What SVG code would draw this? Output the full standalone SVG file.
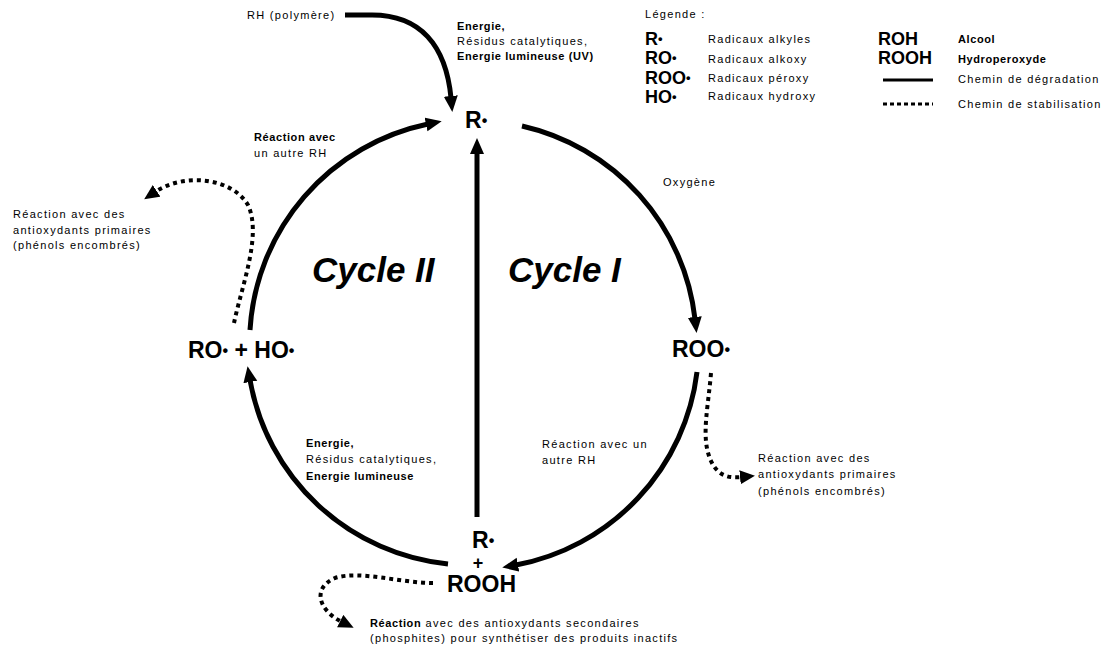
<svg xmlns="http://www.w3.org/2000/svg" width="1113" height="648" viewBox="0 0 1113 648">
<style>
text{font-family:"Liberation Sans",Arial,sans-serif;fill:#000}
.t{font-size:11px;letter-spacing:1.3px}
.b{font-weight:bold;letter-spacing:0.6px}
.n{font-size:23px;font-weight:bold}
.ls{font-size:18px;font-weight:bold}
.cy{font-size:35px;font-weight:bold;font-style:italic}
.deg{fill:none;stroke:#000;stroke-width:5}
.sta{fill:none;stroke:#000;stroke-width:4;stroke-dasharray:4 4}
.dn{font-size:16px}
.dl{font-size:13px}
</style>
<defs>
<marker id="ah" markerUnits="userSpaceOnUse" markerWidth="20" markerHeight="16" refX="2" refY="7" orient="auto" viewBox="0 0 20 16">
<path d="M0,0 L16,7 L0,14 z" fill="#000"/>
</marker>
<marker id="ahs" markerUnits="userSpaceOnUse" markerWidth="20" markerHeight="16" refX="2" refY="7" orient="auto" viewBox="0 0 20 16">
<path d="M0,0 L15,7 L0,14 z" fill="#000"/>
</marker>
</defs>
<rect width="1113" height="648" fill="#fff"/>

<g id="connectors">
<path class="deg" d="M522,126 A224,224 0 0 1 695,319" marker-end="url(#ah)"/>
<path class="deg" d="M697,372 A224,224 0 0 1 516,565" marker-end="url(#ah)"/>
<path class="deg" d="M448,564 A224,224 0 0 1 250,380" marker-end="url(#ah)"/>
<path class="deg" d="M250,330 A224,224 0 0 1 428,124" marker-end="url(#ah)"/>
<path class="deg" d="M477,517 L477,152" marker-end="url(#ah)"/>
<path class="deg" d="M345,15 L372,15 C420,15 446,45 451,98" marker-end="url(#ah)"/>
<path class="sta" d="M234,323 C242,285 262,235 248,205 C232,178 185,172 155,192" marker-end="url(#ahs)"/>
<path class="sta" d="M711,373 C708,410 700,440 712,463 C720,478 732,478 742,477" marker-end="url(#ahs)"/>
<path class="sta" d="M433,583 C400,583 360,570 335,578 C312,588 318,610 342,622" marker-end="url(#ahs)"/>
</g>

<g id="node-R-top"><text class="n" x="465" y="128">R<tspan class="dn" dy="-2.5">•</tspan></text></g>
<g id="node-ROO"><text class="n" x="672" y="357">ROO<tspan class="dn" dy="-2.5">•</tspan></text></g>
<g id="node-RO-HO"><text class="n" x="188" y="358">RO<tspan class="dn" dy="-2.5">•</tspan><tspan dy="2.5"> + HO</tspan><tspan class="dn" dy="-2.5">•</tspan></text></g>
<g id="node-R-ROOH">
<text class="n" x="472" y="548">R<tspan class="dn" dy="-2.5">•</tspan></text>
<text x="478" y="569" font-size="18" font-weight="bold" text-anchor="middle">+</text>
<text class="n" x="447" y="592">ROOH</text>
</g>

<g id="labels">
<text class="t" x="247" y="19">RH (polymère)</text>
<text class="t b" x="457" y="30">Energie,</text>
<text class="t" x="457" y="45">Résidus catalytiques,</text>
<text class="t b" x="457" y="60">Energie lumineuse (UV)</text>
<text class="t b" x="254" y="141">Réaction avec</text>
<text class="t" x="254" y="157">un autre RH</text>
<text class="t" x="663" y="186">Oxygène</text>
<text class="t" x="13" y="218">Réaction avec des</text>
<text class="t" x="13" y="234">antioxydants primaires</text>
<text class="t" x="13" y="249">(phénols encombrés)</text>
<text class="cy" x="312" y="282">Cycle II</text>
<text class="cy" x="508" y="282">Cycle I</text>
<text class="t b" x="306" y="447">Energie,</text>
<text class="t" x="306" y="463">Résidus catalytiques,</text>
<text class="t b" x="306" y="480">Energie lumineuse</text>
<text class="t" x="542" y="448">Réaction avec un</text>
<text class="t" x="542" y="464">autre RH</text>
<text class="t" x="758" y="462">Réaction avec des</text>
<text class="t" x="758" y="478">antioxydants primaires</text>
<text class="t" x="758" y="495">(phénols encombrés)</text>
<text class="t" x="370" y="627"><tspan font-weight="bold" letter-spacing="0.6px">Réaction</tspan> avec des antioxydants secondaires</text>
<text class="t" x="370" y="642">(phosphites) pour synthétiser des produits inactifs</text>
</g>

<g id="legend">
<text class="t" x="645" y="18">Légende :</text>
<text class="ls" x="645" y="45">R<tspan class="dl" dy="-2">•</tspan></text>
<text class="ls" x="645" y="64">RO<tspan class="dl" dy="-2">•</tspan></text>
<text class="ls" x="645" y="84">ROO<tspan class="dl" dy="-2">•</tspan></text>
<text class="ls" x="645" y="103">HO<tspan class="dl" dy="-2">•</tspan></text>
<text class="t" x="708" y="43">Radicaux alkyles</text>
<text class="t" x="708" y="63">Radicaux alkoxy</text>
<text class="t" x="708" y="82">Radicaux péroxy</text>
<text class="t" x="708" y="100">Radicaux hydroxy</text>
<text class="ls" x="878" y="45">ROH</text>
<text class="ls" x="878" y="64">ROOH</text>
<line x1="883" y1="80" x2="933" y2="80" stroke="#000" stroke-width="3"/>
<line x1="883" y1="104" x2="933" y2="104" stroke="#000" stroke-width="3" stroke-dasharray="4 3"/>
<text class="t b" x="958" y="43">Alcool</text>
<text class="t b" x="958" y="63">Hydroperoxyde</text>
<text class="t" x="958" y="83">Chemin de dégradation</text>
<text class="t" x="958" y="108">Chemin de stabilisation</text>
</g>
</svg>
